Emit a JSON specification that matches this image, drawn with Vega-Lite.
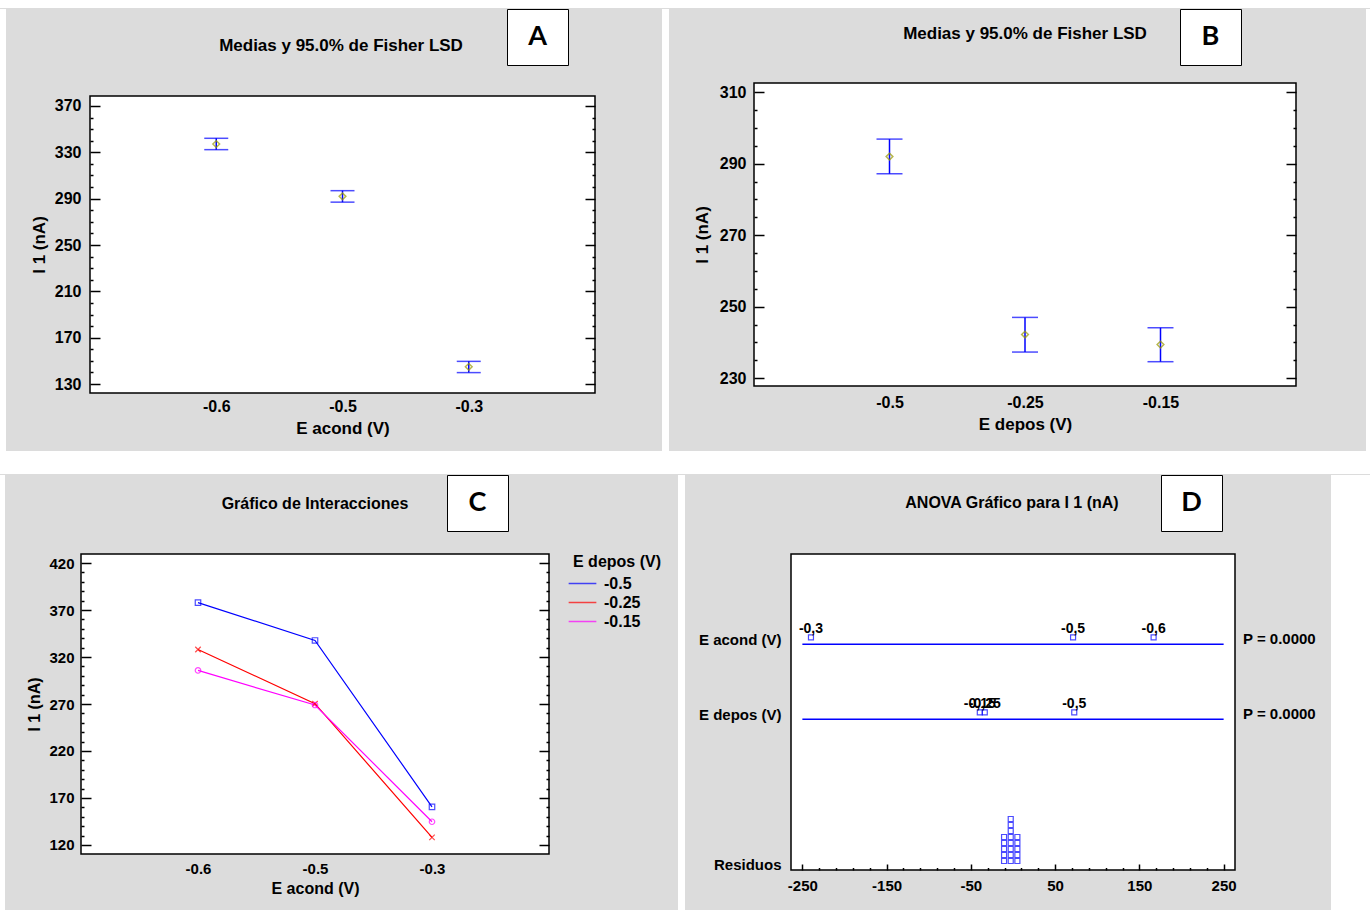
{
  "$schema": "https://vega.github.io/schema/vega-lite/v6.json",
  "background": "#dcdcdc",
  "padding": 0,
  "spacing": 0,
  "config": {
    "font": "Liberation Sans",
    "view": {"stroke": null},
    "concat": {"spacing": 0},
    "axis": {
      "labelFont": "Liberation Sans", "titleFont": "Liberation Sans",
      "labelFontWeight": "bold", "titleFontWeight": "bold",
      "labelColor": "#000000", "titleColor": "#000000",
      "tickColor": "#000000", "tickWidth": 1.5,
      "domain": false, "grid": false, "labelOverlap": false
    },
    "legend": {
      "labelFont": "Liberation Sans", "titleFont": "Liberation Sans",
      "labelFontWeight": "bold", "titleFontWeight": "bold",
      "labelColor": "#000000", "titleColor": "#000000"
    },
    "text": {"font": "Liberation Sans", "color": "#000000"}
  },
  "datasets": {
    "acond": [
      {"acond": "-0.6", "mean": 337.1, "lo": 332.3, "hi": 342.1},
      {"acond": "-0.5", "mean": 292.0, "lo": 287.0, "hi": 296.9},
      {"acond": "-0.3", "mean": 144.9, "lo": 139.9, "hi": 149.6}
    ],
    "depos": [
      {"depos": "-0.5", "mean": 292.0, "lo": 287.2, "hi": 296.9},
      {"depos": "-0.25", "mean": 242.2, "lo": 237.3, "hi": 247.0},
      {"depos": "-0.15", "mean": 239.4, "lo": 234.6, "hi": 244.1}
    ],
    "cells": [
      {"acond": "-0.6", "depos": "-0.5", "i1": 377.9},
      {"acond": "-0.5", "depos": "-0.5", "i1": 337.6},
      {"acond": "-0.3", "depos": "-0.5", "i1": 160.6},
      {"acond": "-0.6", "depos": "-0.25", "i1": 328.0},
      {"acond": "-0.5", "depos": "-0.25", "i1": 270.3},
      {"acond": "-0.3", "depos": "-0.25", "i1": 128.1},
      {"acond": "-0.6", "depos": "-0.15", "i1": 305.7},
      {"acond": "-0.5", "depos": "-0.15", "i1": 268.9},
      {"acond": "-0.3", "depos": "-0.15", "i1": 144.7}
    ],
    "anova": [
      {"factor": "E acond (V)", "p": 0},
      {"factor": "E depos (V)", "p": 0}
    ],
    "effects": [
      {"factor": "E acond (V)", "level": "-0,3", "effect": -239.8},
      {"factor": "E acond (V)", "level": "-0,5", "effect": 71.3},
      {"factor": "E acond (V)", "level": "-0,6", "effect": 166.9},
      {"factor": "E depos (V)", "level": "-0,5", "effect": 72.7},
      {"factor": "E depos (V)", "level": "-0,25", "effect": -33.5},
      {"factor": "E depos (V)", "level": "-0,15", "effect": -39.4}
    ],
    "resid": [
      {"resid": -10.6}, {"resid": -10.6}, {"resid": -10.6}, {"resid": -10.6}, {"resid": -10.6},
      {"resid": -2.7}, {"resid": -2.7}, {"resid": -2.7}, {"resid": -2.7},
      {"resid": -2.7}, {"resid": -2.7}, {"resid": -2.7}, {"resid": -2.7},
      {"resid": 5.2}, {"resid": 5.2}, {"resid": 5.2}, {"resid": 5.2}, {"resid": 5.2}
    ]
  },
  "vconcat": [
    {"width": 1370, "height": 8, "data": {"values": []}, "mark": "point", "view": {"fill": "#ffffff", "stroke": null}},
    {
      "spacing": 0,
      "hconcat": [
        {"width": 6, "height": 442, "data": {"values": []}, "mark": "point", "view": {"fill": "#ffffff", "stroke": null}},
        {"width": 23, "height": 1, "data": {"values": []}, "mark": "point"},
        {
          "spacing": 12,
          "vconcat": [
            {
              "spacing": 0,
              "hconcat": [
                {"width": 86, "height": 1, "data": {"values": []}, "mark": "point"},
                {
                  "width": 330, "height": 74,
                  "data": {"values": [{"t": "Medias y 95.0% de Fisher LSD"}]},
                  "mark": {"type": "text", "fontSize": 17, "fontWeight": "bold"},
                  "encoding": {"text": {"field": "t"}}
                },
                {
                  "width": 61, "height": 56,
                  "view": {"fill": "#ffffff", "stroke": "#000000", "strokeWidth": 1},
                  "data": {"values": [{"panel": "A"}]},
                  "mark": {"type": "text", "font": "Lato", "fontSize": 27, "fontWeight": "bold"},
                  "encoding": {"text": {"field": "panel"}}
                }
              ]
            },
            {
              "width": 505, "height": 297,
              "view": {"fill": "#ffffff", "stroke": "#000000", "strokeWidth": 1.5},
              "data": {"name": "acond"},
              "encoding": {
                "x": {"field": "acond", "type": "ordinal", "sort": ["-0.6", "-0.5", "-0.3"],
                      "scale": {"type": "point", "padding": 1.1},
                      "axis": {"title": "E acond (V)", "labelAngle": 0, "ticks": false, "labelPadding": 5, "labelFontSize": 16, "titleFontSize": 17, "titlePadding": 6}}
              },
              "layer": [
                {
                  "mark": {"type": "rule", "color": "#0000ff", "strokeWidth": 1.5},
                  "encoding": {
                    "y": {"field": "lo", "type": "quantitative", "scale": {"domain": [122.3, 378.6], "nice": false, "zero": false},
                          "axis": {"orient": "left", "title": "I 1 (nA)",
                                   "values": [130,140,150,160,170,180,190,200,210,220,230,240,250,260,270,280,290,300,310,320,330,340,350,360,370],
                                   "labelExpr": "datum.value % 40 == 10 ? datum.label : ''",
                                   "tickSize": {"condition": {"test": "datum.value % 40 == 10", "value": -10}, "value": -3},
                                   "labelPadding": 19, "labelFontSize": 16, "titleFontSize": 17, "titlePadding": 6}},
                    "y2": {"field": "hi"}
                  }
                },
                {
                  "mark": {"type": "tick", "orient": "horizontal", "size": 24, "thickness": 1.5, "color": "#0000ff"},
                  "encoding": {
                    "y": {"field": "lo", "type": "quantitative", "scale": {"domain": [122.3, 378.6], "nice": false, "zero": false},
                          "axis": {"orient": "right", "title": null, "labels": false,
                                   "values": [130,140,150,160,170,180,190,200,210,220,230,240,250,260,270,280,290,300,310,320,330,340,350,360,370],
                                   "tickSize": {"condition": {"test": "datum.value % 40 == 10", "value": -10}, "value": -3}}}
                  }
                },
                {
                  "mark": {"type": "tick", "orient": "horizontal", "size": 24, "thickness": 1.5, "color": "#0000ff"},
                  "encoding": {
                    "y": {"field": "hi", "type": "quantitative", "scale": {"domain": [122.3, 378.6], "nice": false, "zero": false}, "axis": null}
                  }
                },
                {
                  "mark": {"type": "point", "shape": "diamond", "filled": false, "color": "#999900", "size": 45, "strokeWidth": 1.5},
                  "encoding": {
                    "y": {"field": "mean", "type": "quantitative", "scale": {"domain": [122.3, 378.6], "nice": false, "zero": false}, "axis": null}
                  }
                }
              ],
              "resolve": {"axis": {"y": "independent"}}
            }
          ]
        },
        {"width": 65, "height": 1, "data": {"values": []}, "mark": "point"},
        {"width": 7, "height": 442, "data": {"values": []}, "mark": "point", "view": {"fill": "#ffffff", "stroke": null}},
        {"width": 23, "height": 1, "data": {"values": []}, "mark": "point"},
        {
          "spacing": 16,
          "vconcat": [
            {
              "spacing": 0,
              "hconcat": [
                {"width": 117, "height": 1, "data": {"values": []}, "mark": "point"},
                {
                  "width": 308, "height": 50,
                  "data": {"values": [{"t": "Medias y 95.0% de Fisher LSD"}]},
                  "mark": {"type": "text", "fontSize": 17, "fontWeight": "bold"},
                  "encoding": {"text": {"field": "t"}}
                },
                {
                  "width": 61, "height": 56,
                  "view": {"fill": "#ffffff", "stroke": "#000000", "strokeWidth": 1},
                  "data": {"values": [{"panel": "B"}]},
                  "mark": {"type": "text", "font": "Lato", "fontSize": 27, "fontWeight": "bold"},
                  "encoding": {"text": {"field": "panel"}}
                }
              ]
            },
            {
              "width": 542, "height": 303,
              "view": {"fill": "#ffffff", "stroke": "#000000", "strokeWidth": 1.5},
              "data": {"name": "depos"},
              "encoding": {
                "x": {"field": "depos", "type": "ordinal", "sort": ["-0.5", "-0.25", "-0.15"],
                      "scale": {"type": "point", "padding": 1.117},
                      "axis": {"title": "E depos (V)", "labelAngle": 0, "ticks": false, "labelPadding": 8, "labelFontSize": 16, "titleFontSize": 17, "titlePadding": 6}}
              },
              "layer": [
                {
                  "mark": {"type": "rule", "color": "#0000ff", "strokeWidth": 1.5},
                  "encoding": {
                    "y": {"field": "lo", "type": "quantitative", "scale": {"domain": [227.8, 312.6], "nice": false, "zero": false},
                          "axis": {"orient": "left", "title": "I 1 (nA)",
                                   "values": [230,235,240,245,250,255,260,265,270,275,280,285,290,295,300,305,310],
                                   "labelExpr": "datum.value % 20 == 10 ? datum.label : ''",
                                   "tickSize": {"condition": {"test": "datum.value % 20 == 10", "value": -10}, "value": -3},
                                   "labelPadding": 18, "labelFontSize": 16, "titleFontSize": 17, "titlePadding": 8}},
                    "y2": {"field": "hi"}
                  }
                },
                {
                  "mark": {"type": "tick", "orient": "horizontal", "size": 26, "thickness": 1.5, "color": "#0000ff"},
                  "encoding": {
                    "y": {"field": "lo", "type": "quantitative", "scale": {"domain": [227.8, 312.6], "nice": false, "zero": false},
                          "axis": {"orient": "right", "title": null, "labels": false,
                                   "values": [230,235,240,245,250,255,260,265,270,275,280,285,290,295,300,305,310],
                                   "tickSize": {"condition": {"test": "datum.value % 20 == 10", "value": -10}, "value": -3}}}
                  }
                },
                {
                  "mark": {"type": "tick", "orient": "horizontal", "size": 26, "thickness": 1.5, "color": "#0000ff"},
                  "encoding": {
                    "y": {"field": "hi", "type": "quantitative", "scale": {"domain": [227.8, 312.6], "nice": false, "zero": false}, "axis": null}
                  }
                },
                {
                  "mark": {"type": "point", "shape": "diamond", "filled": false, "color": "#999900", "size": 45, "strokeWidth": 1.5},
                  "encoding": {
                    "y": {"field": "mean", "type": "quantitative", "scale": {"domain": [227.8, 312.6], "nice": false, "zero": false}, "axis": null}
                  }
                }
              ],
              "resolve": {"axis": {"y": "independent"}}
            }
          ]
        },
        {"width": 68, "height": 1, "data": {"values": []}, "mark": "point"},
        {"width": 5, "height": 442, "data": {"values": []}, "mark": "point", "view": {"fill": "#ffffff", "stroke": null}}
      ]
    },
    {"width": 1370, "height": 23, "data": {"values": []}, "mark": "point", "view": {"fill": "#ffffff", "stroke": null}},
    {
      "spacing": 0,
      "hconcat": [
        {"width": 5, "height": 437, "data": {"values": []}, "mark": "point", "view": {"fill": "#ffffff", "stroke": null}},
        {"width": 21, "height": 1, "data": {"values": []}, "mark": "point"},
        {
          "spacing": 20,
          "resolve": {"scale": {"color": "independent", "shape": "independent"}, "legend": {"color": "independent", "shape": "independent"}},
          "vconcat": [
            {
              "spacing": 0,
              "hconcat": [
                {"width": 103, "height": 1, "data": {"values": []}, "mark": "point"},
                {
                  "width": 262, "height": 58,
                  "data": {"values": [{"t": "Gráfico de Interacciones"}]},
                  "mark": {"type": "text", "fontSize": 16, "fontWeight": "bold"},
                  "encoding": {"text": {"field": "t"}}
                },
                {
                  "width": 61, "height": 56,
                  "view": {"fill": "#ffffff", "stroke": "#000000", "strokeWidth": 1},
                  "data": {"values": [{"panel": "C"}]},
                  "mark": {"type": "text", "font": "Lato", "fontSize": 27, "fontWeight": "bold"},
                  "encoding": {"text": {"field": "panel"}}
                }
              ]
            },
            {
              "width": 468, "height": 300,
              "view": {"fill": "#ffffff", "stroke": "#000000", "strokeWidth": 1.5},
              "data": {"name": "cells"},
              "layer": [
                {
                  "mark": {"type": "line", "strokeWidth": 1.2},
                  "encoding": {
                    "x": {"field": "acond", "type": "ordinal", "sort": ["-0.6", "-0.5", "-0.3"],
                          "scale": {"type": "point", "padding": 1.1},
                          "axis": {"title": "E acond (V)", "labelAngle": 0, "ticks": false, "labelPadding": 7, "labelFontSize": 15, "titleFontSize": 16, "titlePadding": 4}},
                    "y": {"field": "i1", "type": "quantitative", "scale": {"domain": [110.4, 429.6], "nice": false, "zero": false},
                          "axis": {"orient": "left", "title": "I 1 (nA)",
                                   "values": [120,130,140,150,160,170,180,190,200,210,220,230,240,250,260,270,280,290,300,310,320,330,340,350,360,370,380,390,400,410,420],
                                   "labelExpr": "datum.value % 50 == 20 ? datum.label : ''",
                                   "tickSize": {"condition": {"test": "datum.value % 50 == 20", "value": -10}, "value": -3},
                                   "labelPadding": 17, "labelFontSize": 15, "titleFontSize": 16, "titlePadding": 6}},
                    "color": {"field": "depos", "type": "nominal",
                              "scale": {"domain": ["-0.5", "-0.25", "-0.15"], "range": ["#0000ff", "#ff0000", "#ff00ff"]},
                              "legend": {"title": "E depos (V)", "orient": "right", "offset": 23, "padding": 0,
                                         "symbolType": "M-1.6,0H1.6", "symbolSize": 300, "symbolStrokeWidth": 1.5,
                                         "labelFontSize": 16, "titleFontSize": 16, "labelOffset": 12, "rowPadding": 1, "titlePadding": 4}}
                  }
                },
                {
                  "mark": {"type": "point", "filled": false, "size": 30, "strokeWidth": 1.2},
                  "encoding": {
                    "x": {"field": "acond", "type": "ordinal", "sort": ["-0.6", "-0.5", "-0.3"], "scale": {"type": "point", "padding": 1.1}},
                    "y": {"field": "i1", "type": "quantitative", "scale": {"domain": [110.4, 429.6], "nice": false, "zero": false},
                          "axis": {"orient": "right", "title": null, "labels": false,
                                   "values": [120,130,140,150,160,170,180,190,200,210,220,230,240,250,260,270,280,290,300,310,320,330,340,350,360,370,380,390,400,410,420],
                                   "tickSize": {"condition": {"test": "datum.value % 50 == 20", "value": -10}, "value": -3}}},
                    "color": {"field": "depos", "type": "nominal",
                              "scale": {"domain": ["-0.5", "-0.25", "-0.15"], "range": ["#0000ff", "#ff0000", "#ff00ff"]}},
                    "shape": {"field": "depos", "type": "nominal",
                              "scale": {"domain": ["-0.15", "-0.25", "-0.5"], "range": ["circle", "M-1,-1L1,1M1,-1L-1,1", "square"]}, "legend": null}
                  }
                }
              ],
              "resolve": {"axis": {"y": "independent"}}
            }
          ]
        },
        {"width": 15, "height": 1, "data": {"values": []}, "mark": "point"},
        {"width": 7, "height": 437, "data": {"values": []}, "mark": "point", "view": {"fill": "#ffffff", "stroke": null}},
        {"width": 12, "height": 1, "data": {"values": []}, "mark": "point"},
        {
          "spacing": 21,
          "vconcat": [
            {
              "spacing": 0,
              "hconcat": [
                {"width": 73, "height": 1, "data": {"values": []}, "mark": "point"},
                {
                  "width": 296, "height": 56,
                  "data": {"values": [{"t": "ANOVA Gráfico para I 1 (nA)"}]},
                  "mark": {"type": "text", "fontSize": 16, "fontWeight": "bold"},
                  "encoding": {"text": {"field": "t"}}
                },
                {
                  "width": 61, "height": 56,
                  "view": {"fill": "#ffffff", "stroke": "#000000", "strokeWidth": 1},
                  "data": {"values": [{"panel": "D"}]},
                  "mark": {"type": "text", "font": "Lato", "fontSize": 27, "fontWeight": "bold"},
                  "encoding": {"text": {"field": "panel"}}
                }
              ]
            },
            {
              "width": 444, "height": 316,
              "view": {"fill": "#ffffff", "stroke": "#000000", "strokeWidth": 1.5},
              "layer": [
                {
                  "layer": [
                    {
                      "data": {"name": "anova"},
                      "mark": {"type": "rule", "color": "#0000ff", "strokeWidth": 1.5, "yOffset": 5},
                      "encoding": {
                        "y": {"field": "factor", "type": "nominal",
                              "scale": {"type": "point", "domain": ["E acond (V)", "E depos (V)", " ", "Residuos"], "padding": 0.607, "align": 0.937},
                              "axis": {"orient": "left", "title": null, "ticks": false, "labelPadding": 10, "labelFontSize": 15}},
                        "x": {"datum": -250,
                              "scale": {"domain": [-263.5, 263.5], "nice": false, "zero": false},
                              "axis": {"orient": "bottom", "title": null,
                                       "values": [-250,-230,-210,-190,-170,-150,-130,-110,-90,-70,-50,-30,-10,10,30,50,70,90,110,130,150,170,190,210,230,250],
                                       "labelExpr": "(datum.value + 250) % 100 == 0 ? '' + datum.value : ''",
                                       "tickSize": {"condition": {"test": "(datum.value + 250) % 100 == 0", "value": -6}, "value": -2.5},
                                       "labelPadding": 14, "labelFontSize": 15}},
                        "x2": {"datum": 250}
                      }
                    },
                    {
                      "data": {"name": "effects"},
                      "mark": {"type": "point", "shape": "square", "filled": false, "color": "#0000ff", "size": 25, "strokeWidth": 1.2, "yOffset": -2},
                      "encoding": {
                        "y": {"field": "factor", "type": "nominal",
                              "scale": {"type": "point", "domain": ["E acond (V)", "E depos (V)", " ", "Residuos"], "padding": 0.607, "align": 0.937},
                              "axis": {"orient": "left", "title": null, "ticks": false, "labelPadding": 10, "labelFontSize": 15}},
                        "x": {"field": "effect", "type": "quantitative",
                              "scale": {"domain": [-263.5, 263.5], "nice": false, "zero": false},
                              "axis": {"orient": "bottom", "title": null,
                                       "values": [-250,-230,-210,-190,-170,-150,-130,-110,-90,-70,-50,-30,-10,10,30,50,70,90,110,130,150,170,190,210,230,250],
                                       "labelExpr": "(datum.value + 250) % 100 == 0 ? '' + datum.value : ''",
                                       "tickSize": {"condition": {"test": "(datum.value + 250) % 100 == 0", "value": -6}, "value": -2.5},
                                       "labelPadding": 14, "labelFontSize": 15}}
                      }
                    },
                    {
                      "data": {"name": "effects"},
                      "mark": {"type": "text", "fontSize": 14, "fontWeight": "bold", "baseline": "middle", "yOffset": -10},
                      "encoding": {
                        "y": {"field": "factor", "type": "nominal",
                              "scale": {"type": "point", "domain": ["E acond (V)", "E depos (V)", " ", "Residuos"], "padding": 0.607, "align": 0.937},
                              "axis": {"orient": "left", "title": null, "ticks": false, "labelPadding": 10, "labelFontSize": 15}},
                        "x": {"field": "effect", "type": "quantitative",
                              "scale": {"domain": [-263.5, 263.5], "nice": false, "zero": false},
                              "axis": {"orient": "bottom", "title": null,
                                       "values": [-250,-230,-210,-190,-170,-150,-130,-110,-90,-70,-50,-30,-10,10,30,50,70,90,110,130,150,170,190,210,230,250],
                                       "labelExpr": "(datum.value + 250) % 100 == 0 ? '' + datum.value : ''",
                                       "tickSize": {"condition": {"test": "(datum.value + 250) % 100 == 0", "value": -6}, "value": -2.5},
                                       "labelPadding": 14, "labelFontSize": 15}},
                        "text": {"field": "level"}
                      }
                    },
                    {
                      "data": {"name": "anova"},
                      "transform": [{"calculate": "'P = ' + format(datum.p, '.4f')", "as": "ptxt"}],
                      "mark": {"type": "text", "align": "left", "dx": 8, "fontSize": 15, "fontWeight": "bold", "baseline": "middle"},
                      "encoding": {
                        "y": {"field": "factor", "type": "nominal",
                              "scale": {"type": "point", "domain": ["E acond (V)", "E depos (V)", " ", "Residuos"], "padding": 0.607, "align": 0.937},
                              "axis": {"orient": "left", "title": null, "ticks": false, "labelPadding": 10, "labelFontSize": 15}},
                        "x": {"datum": 263.5,
                              "scale": {"domain": [-263.5, 263.5], "nice": false, "zero": false},
                              "axis": {"orient": "bottom", "title": null,
                                       "values": [-250,-230,-210,-190,-170,-150,-130,-110,-90,-70,-50,-30,-10,10,30,50,70,90,110,130,150,170,190,210,230,250],
                                       "labelExpr": "(datum.value + 250) % 100 == 0 ? '' + datum.value : ''",
                                       "tickSize": {"condition": {"test": "(datum.value + 250) % 100 == 0", "value": -6}, "value": -2.5},
                                       "labelPadding": 14, "labelFontSize": 15}},
                        "text": {"field": "ptxt"}
                      }
                    }
                  ]
                },
                {
                  "data": {"name": "resid"},
                  "transform": [{"window": [{"op": "row_number", "as": "k"}], "groupby": ["resid"]}],
                  "mark": {"type": "point", "shape": "square", "filled": false, "color": "#0000ff", "size": 25, "strokeWidth": 1.2},
                  "encoding": {
                    "x": {"field": "resid", "type": "quantitative",
                          "scale": {"domain": [-263.5, 263.5], "nice": false, "zero": false},
                          "axis": {"orient": "bottom", "title": null,
                                   "values": [-250,-230,-210,-190,-170,-150,-130,-110,-90,-70,-50,-30,-10,10,30,50,70,90,110,130,150,170,190,210,230,250],
                                   "labelExpr": "(datum.value + 250) % 100 == 0 ? '' + datum.value : ''",
                                   "tickSize": {"condition": {"test": "(datum.value + 250) % 100 == 0", "value": -6}, "value": -2.5},
                                   "labelPadding": 14, "labelFontSize": 15}},
                    "y": {"field": "k", "type": "quantitative", "scale": {"domain": [-0.5, 52.17], "nice": false, "zero": false}, "axis": null}
                  }
                }
              ],
              "resolve": {"scale": {"y": "independent"}}
            }
          ]
        },
        {"width": 14, "height": 1, "data": {"values": []}, "mark": "point"},
        {"width": 40, "height": 437, "data": {"values": []}, "mark": "point", "view": {"fill": "#ffffff", "stroke": null}}
      ]
    }
  ]
}
